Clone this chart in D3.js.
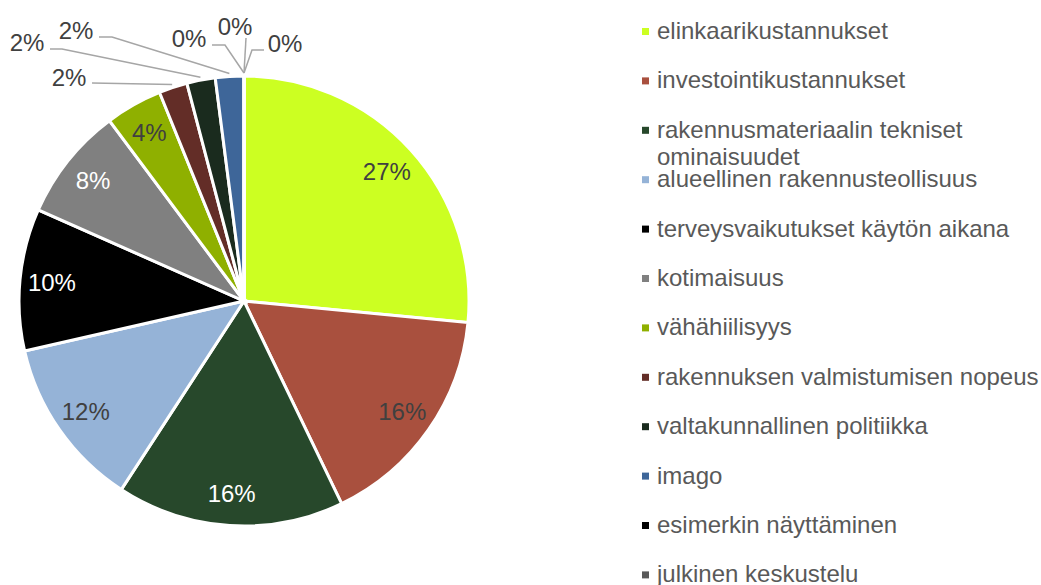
<!DOCTYPE html>
<html>
<head>
<meta charset="utf-8">
<script src="https://cdn.jsdelivr.net/npm/d3@7"></script>
<style>
  html, body { margin: 0; padding: 0; background: #fff; }
  svg { display: block; font-family: "Liberation Sans", Arial, sans-serif; }
</style>
</head>
<body>
<svg id="chart" width="1041" height="585"></svg>
<script>
// ---- data ----
const categories = [
  "elinkaarikustannukset",
  "investointikustannukset",
  "rakennusmateriaalin tekniset ominaisuudet",
  "alueellinen rakennusteollisuus",
  "terveysvaikutukset käytön aikana",
  "kotimaisuus",
  "vähähiilisyys",
  "rakennuksen valmistumisen nopeus",
  "valtakunnallinen politiikka",
  "imago",
  "esimerkin näyttäminen",
  "julkinen keskustelu",
  "muu"
];
const values = [13, 8, 8, 6, 5, 4, 2, 1, 1, 1, 0, 0, 0];
const colors = [
  "#ccff22", "#a9503e", "#27482b", "#95b3d7", "#000000", "#808080",
  "#8fb000", "#632d27", "#1a2b1e", "#3e6699", "#000000", "#595959", "#7f7f7f"
];
// legend wrapping (line breaks as in the reference)
const legendLines = categories.map(c =>
  c === "rakennusmateriaalin tekniset ominaisuudet"
    ? ["rakennusmateriaalin tekniset", "ominaisuudet"] : [c]);

// ---- layout ----
const cx = 244, cy = 301, R = 225;
const labelR = 193;
const insideTextColor = ["#404040", "#404040", "#ffffff", "#404040", "#ffffff", "#ffffff", "#404040"];
// outside labels (slices 7..12): label centre and leader-line start, relative to pie centre
const outsideLayout = {
  7:  { lx: -175, ly: -223, pts: [[-152, -218]] },
  8:  { lx: -217, ly: -258, pts: [[-194, -252], [-182, -252]] },
  9:  { lx: -168, ly: -270, pts: [[-145, -264], [-132, -264]] },
  10: { lx: -55,  ly: -262, pts: [[-32, -256], [-19, -256]] },
  11: { lx: -9,   ly: -274, pts: [[2, -263]] },
  12: { lx: 41,   ly: -257, pts: [[20, -251], [8, -251]] }
};

const svg = d3.select("#chart");
const total = d3.sum(values);
const pie = d3.pie().sort(null).value(d => d)(values);
const arc = d3.arc().innerRadius(0).outerRadius(R);

const g = svg.append("g").attr("transform", `translate(${cx},${cy})`);

g.selectAll("path.slice")
  .data(pie)
  .join("path")
  .attr("class", "slice")
  .attr("d", arc)
  .attr("fill", (d, i) => colors[i])
  .attr("stroke", "#ffffff")
  .attr("stroke-width", 3)
  .attr("stroke-linejoin", "miter");

const pct = v => Math.round(v / total * 100) + "%";

// inside labels
pie.forEach((d, i) => {
  if (outsideLayout[i]) return;
  const a = (d.startAngle + d.endAngle) / 2;
  g.append("text")
    .attr("x", labelR * Math.sin(a))
    .attr("y", -labelR * Math.cos(a))
    .attr("dy", "0.35em")
    .attr("text-anchor", "middle")
    .attr("font-size", 24)
    .attr("fill", insideTextColor[i])
    .text(pct(d.value));
});

// outside labels with leader lines
pie.forEach((d, i) => {
  const o = outsideLayout[i];
  if (!o) return;
  const a = (d.startAngle + d.endAngle) / 2;
  const rr = R + 3;
  const end = [rr * Math.sin(a), -rr * Math.cos(a)];
  const pts = o.pts.concat([end]);
  g.append("path")
    .attr("d", d3.line()(pts))
    .attr("fill", "none")
    .attr("stroke", "#a6a6a6")
    .attr("stroke-width", 1.5);
  g.append("text")
    .attr("x", o.lx)
    .attr("y", o.ly)
    .attr("dy", "0.35em")
    .attr("text-anchor", "middle")
    .attr("font-size", 24)
    .attr("fill", "#404040")
    .text(pct(d.value));
});

// legend
const legX = 642, legY0 = 39, legStep = 49.4, lineH = 27;
const leg = svg.append("g");
categories.forEach((c, i) => {
  const y = legY0 + i * legStep;
  leg.append("rect")
    .attr("x", legX).attr("y", y - 11)
    .attr("width", 7).attr("height", 7)
    .attr("fill", colors[i]);
  const t = leg.append("text")
    .attr("x", legX + 15).attr("y", y)
    .attr("font-size", 24)
    .attr("fill", "#595959");
  legendLines[i].forEach((ln, k) => {
    t.append("tspan").attr("x", legX + 15).attr("y", y + k * lineH).text(ln);
  });
});
</script>
</body>
</html>
